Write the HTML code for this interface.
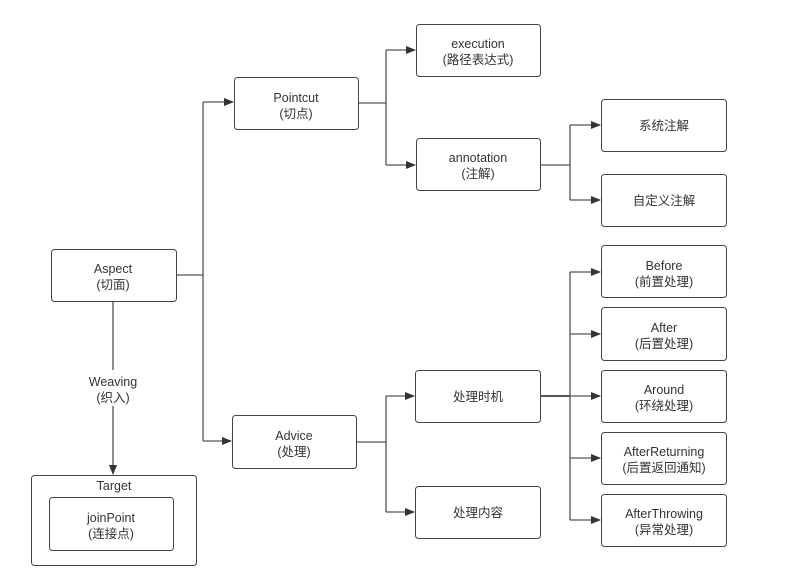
<!DOCTYPE html>
<html><head><meta charset="utf-8"><style>
body{margin:0;background:#fff;}
svg text{font-family:"Liberation Sans","Noto Sans CJK SC",sans-serif;font-size:12.5px;fill:#333;text-anchor:middle;}
</style></head><body>
<svg width="794" height="567" viewBox="0 0 794 567" xmlns="http://www.w3.org/2000/svg">
<defs><marker id="a" markerWidth="10" markerHeight="8" refX="9" refY="4" orient="auto" markerUnits="userSpaceOnUse"><path d="M0,0 L10,4 L0,8 Z" fill="#333"/></marker></defs>
<g fill="none" stroke="#555" stroke-width="1.3">
<path d="M176,275 H203"/>
<path d="M203,102 V441"/>
<path d="M203,102 H233" marker-end="url(#a)"/>
<path d="M203,441 H231" marker-end="url(#a)"/>
<path d="M358,103 H386"/><path d="M386,50 V165"/>
<path d="M386,50 H415" marker-end="url(#a)"/>
<path d="M386,165 H415" marker-end="url(#a)"/>
<path d="M540,165 H570"/><path d="M570,125 V200"/>
<path d="M570,125 H600" marker-end="url(#a)"/>
<path d="M570,200 H600" marker-end="url(#a)"/>
<path d="M356,442 H386"/><path d="M386,396 V512"/>
<path d="M386,396 H414" marker-end="url(#a)"/>
<path d="M386,512 H414" marker-end="url(#a)"/>
<path d="M540,396 H570" stroke-width="2"/><path d="M570,272 V520"/>
<path d="M570,272 H600" marker-end="url(#a)"/>
<path d="M570,334 H600" marker-end="url(#a)"/>
<path d="M570,396 H600" marker-end="url(#a)"/>
<path d="M570,458 H600" marker-end="url(#a)"/>
<path d="M570,520 H600" marker-end="url(#a)"/>
<path d="M113,301 V370"/><path d="M113,406 V474" marker-end="url(#a)"/>
</g>
<g fill="#fff" stroke="#444" stroke-width="1">
<rect x="51.5" y="249.5" width="125" height="52" rx="3"/>
<rect x="31.5" y="475.5" width="165" height="90" rx="3"/>
<rect x="49.5" y="497.5" width="124" height="53" rx="3"/>
<rect x="234.5" y="77.5" width="124" height="52" rx="3"/>
<rect x="232.5" y="415.5" width="124" height="53" rx="3"/>
<rect x="416.5" y="24.5" width="124" height="52" rx="3"/>
<rect x="416.5" y="138.5" width="124" height="52" rx="3"/>
<rect x="601.5" y="99.5" width="125" height="52" rx="3"/>
<rect x="601.5" y="174.5" width="125" height="52" rx="3"/>
<rect x="415.5" y="370.5" width="125" height="52" rx="3"/>
<rect x="415.5" y="486.5" width="125" height="52" rx="3"/>
<rect x="601.5" y="245.5" width="125" height="52" rx="3"/>
<rect x="601.5" y="307.5" width="125" height="53" rx="3"/>
<rect x="601.5" y="370.5" width="125" height="52" rx="3"/>
<rect x="601.5" y="432.5" width="125" height="52" rx="3"/>
<rect x="601.5" y="494.5" width="125" height="52" rx="3"/>
</g>
<text x="113" y="273">Aspect</text><text x="113" y="289">(切面)</text>
<text x="113" y="386">Weaving</text><text x="113" y="402">(织入)</text>
<text x="114" y="490">Target</text>
<text x="111" y="522">joinPoint</text><text x="111" y="538">(连接点)</text>
<text x="296" y="102">Pointcut</text><text x="296" y="118">(切点)</text>
<text x="294" y="440">Advice</text><text x="294" y="456">(处理)</text>
<text x="478" y="48">execution</text><text x="478" y="64">(路径表达式)</text>
<text x="478" y="162">annotation</text><text x="478" y="178">(注解)</text>
<text x="664" y="130">系统注解</text>
<text x="664" y="205">自定义注解</text>
<text x="478" y="401">处理时机</text>
<text x="478" y="517">处理内容</text>
<text x="664" y="270">Before</text><text x="664" y="286">(前置处理)</text>
<text x="664" y="332">After</text><text x="664" y="348">(后置处理)</text>
<text x="664" y="394">Around</text><text x="664" y="410">(环绕处理)</text>
<text x="664" y="456">AfterReturning</text><text x="664" y="472">(后置返回通知)</text>
<text x="664" y="518">AfterThrowing</text><text x="664" y="534">(异常处理)</text>
</svg>
</body></html>
